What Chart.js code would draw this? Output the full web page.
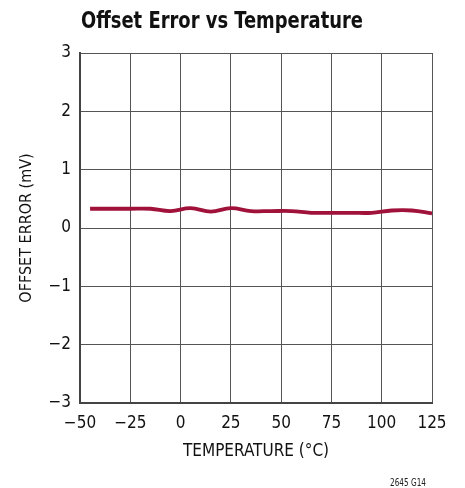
<!DOCTYPE html>
<html>
<head>
<meta charset="utf-8">
<script src="https://cdn.jsdelivr.net/npm/chart.js@4.4.1/dist/chart.umd.min.js"></script>
<style>
  html, body { margin: 0; padding: 0; background: #fff; }
  #wrap { width: 465px; height: 488px; }
</style>
</head>
<body>
<div id="wrap"><canvas id="c" width="465" height="488"></canvas></div>
<script>
const temperatures = [-45, -35, -25, -15, -5, 5, 15, 25, 35, 45, 55, 65, 75, 85, 95, 105, 115, 125];
const offsetError = [0.33, 0.33, 0.33, 0.33, 0.29, 0.34, 0.28, 0.34, 0.29, 0.29, 0.29, 0.26, 0.26, 0.26, 0.26, 0.30, 0.30, 0.25];
const xTicks = [-50, -25, 0, 25, 50, 75, 100, 125];
const yTicks = [-3, -2, -1, 0, 1, 2, 3];
const chartTitle = 'Offset Error vs Temperature';
const xTitle = 'TEMPERATURE (°C)';
const yTitle = 'OFFSET ERROR (mV)';
const footnote = '2645 G14';

const FONT = '"DejaVu Sans Condensed", "Liberation Sans", sans-serif';
const fmt = v => String(v).replace('-', '\u2212');

function drawFitted(ctx, text, x, y, targetWidth) {
  const w = ctx.measureText(text).width;
  const k = Math.min(1, targetWidth / w);
  ctx.save();
  ctx.translate(x, y);
  ctx.scale(k, 1);
  ctx.fillText(text, 0, 0);
  ctx.restore();
}

const textPlugin = {
  id: 'texts',
  afterDraw(chart) {
    const ctx = chart.ctx;
    const a = chart.chartArea;
    ctx.save();
    ctx.fillStyle = '#111';
    ctx.font = 'bold 23px ' + FONT;
    ctx.textAlign = 'left';
    ctx.textBaseline = 'alphabetic';
    drawFitted(ctx, chartTitle, a.left + 1, 28, 282);
    ctx.font = '10px ' + FONT;
    ctx.fillStyle = '#222';
    drawFitted(ctx, footnote, a.right - 42, 486, 36);
    ctx.restore();
  }
};

new Chart(document.getElementById('c'), {
  type: 'line',
  data: {
    datasets: [{
      data: temperatures.map((t, i) => ({ x: t, y: offsetError[i] })),
      borderColor: '#a0123a',
      borderWidth: 3.8,
      pointRadius: 0,
      tension: 0.4,
      fill: false
    }]
  },
  options: {
    responsive: false,
    animation: false,
    layout: { padding: { top: 53, right: 33, bottom: 0, left: 0 } },
    plugins: { legend: { display: false }, tooltip: { enabled: false }, title: { display: false } },
    scales: {
      x: {
        type: 'linear',
        min: xTicks[0],
        max: xTicks[xTicks.length - 1],
        afterBuildTicks: s => { s.ticks = xTicks.map(v => ({ value: v })); },
        afterFit: s => { s.height = 85; },
        grid: { color: '#555', lineWidth: 1, drawTicks: false },
        border: { color: '#444', width: 2 },
        ticks: { color: '#111', padding: 10, font: { family: FONT, size: 17 }, callback: v => fmt(v), maxRotation: 0 },
        title: { display: true, text: xTitle, color: '#111', font: { family: FONT, size: 17 }, padding: { top: 0, bottom: 26 } }
      },
      y: {
        min: yTicks[0],
        max: yTicks[yTicks.length - 1],
        afterBuildTicks: s => { s.ticks = yTicks.map(v => ({ value: v })); },
        afterFit: s => { s.width = 80; },
        grid: { color: '#555', lineWidth: 1, drawTicks: false },
        border: { color: '#444', width: 2 },
        ticks: { color: '#111', padding: 9, font: { family: FONT, size: 17 }, callback: v => fmt(v) },
        title: { display: true, text: yTitle, color: '#111', font: { family: FONT, size: 16 }, padding: { top: 17, bottom: 0 } }
      }
    }
  },
  plugins: [textPlugin]
});
</script>
</body>
</html>
